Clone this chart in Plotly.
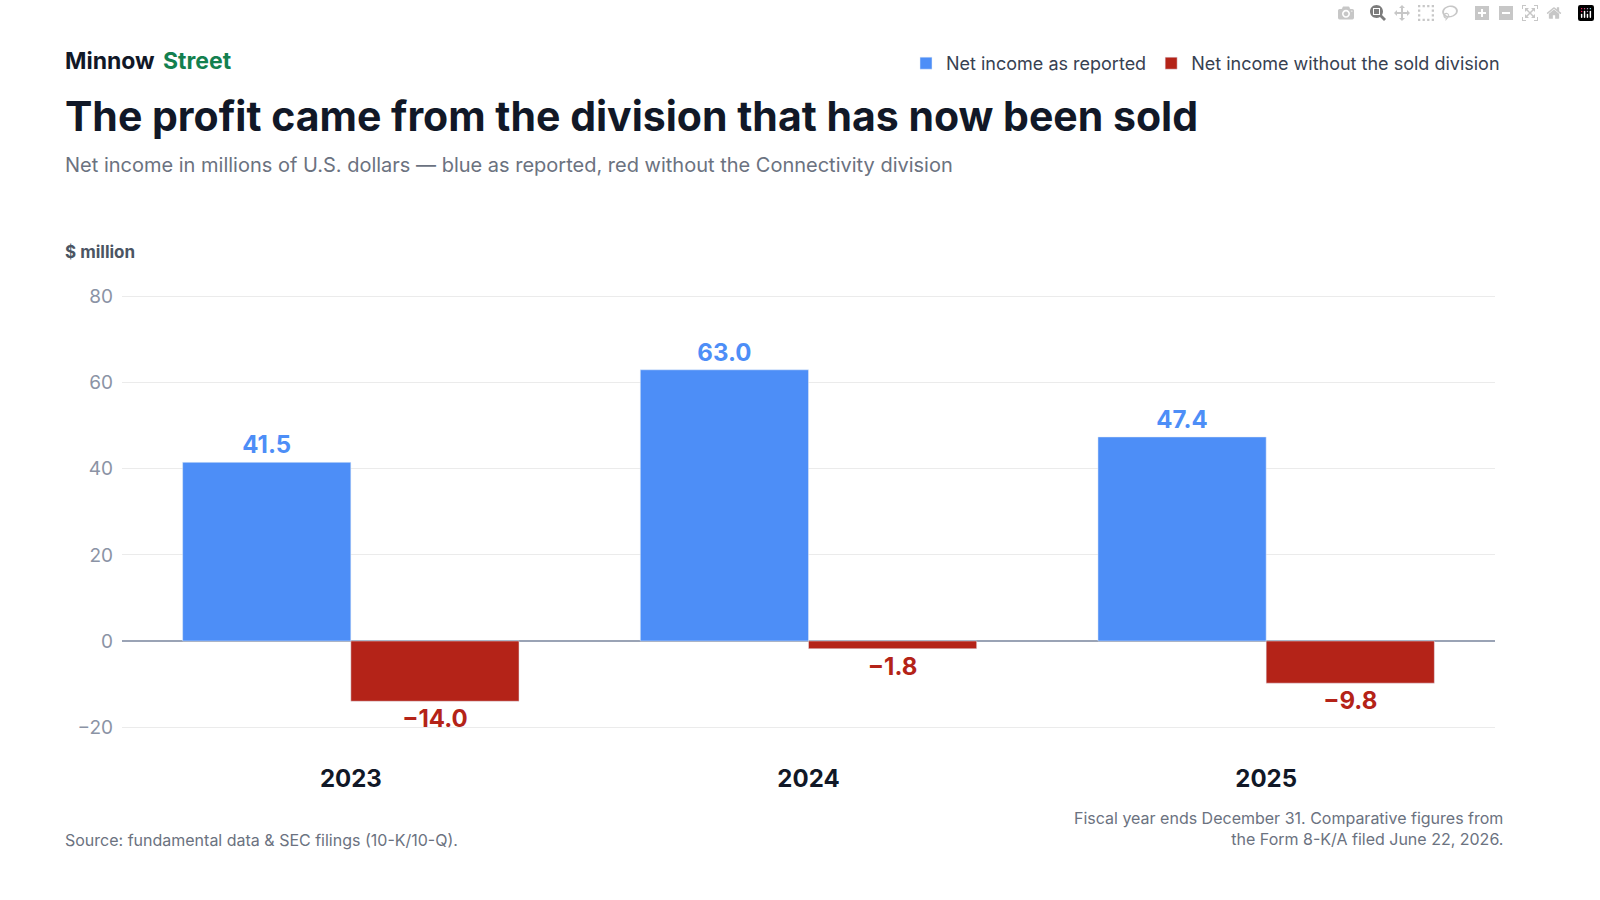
import plotly.graph_objects as go

years = ["2023", "2024", "2025"]
reported = [41.5, 63.0, 47.4]
without_div = [-14.0, -1.8, -9.8]

BLUE = "#4d8ef7"
RED = "#b42318"

def fmt(v):
    return f"{v:.1f}".replace("-", "\u2212")

fig = go.Figure()
fig.add_trace(go.Bar(x=years, y=reported, name="Net income as reported",
                     marker_color=BLUE, text=[fmt(v) for v in reported],
                     textposition="outside", cliponaxis=False,
                     textfont=dict(color=BLUE, size=24, family="Inter", weight=700)))
fig.add_trace(go.Bar(x=years, y=without_div, name="Net income without the sold division",
                     marker_color=RED, text=[fmt(v) for v in without_div],
                     textposition="outside", cliponaxis=False,
                     textfont=dict(color=RED, size=24, family="Inter", weight=700)))

L, R, T, B = 122, 105, 288, 160

fig.update_layout(
    width=1600, height=900,
    paper_bgcolor="white", plot_bgcolor="white",
    font=dict(family="Inter", color="#111827"),
    barmode="group", bargap=0.265, bargroupgap=0,
    margin=dict(l=L, r=R, t=T, b=B),
    showlegend=True,
    legend=dict(orientation="h", x=1505 / 1600, xanchor="right", y=1 - 45 / 900, yanchor="top",
                yref="container", xref="container",
                font=dict(size=18, color="#374151"), traceorder="normal",
                itemwidth=30),
    xaxis=dict(tickfont=dict(size=24, color="#111827", weight=700), showline=False,
               ticks="", ticklabelstandoff=22),
    yaxis=dict(range=[-23, 82], tickvals=[-20, 0, 20, 40, 60, 80],
               ticktext=["\u221220", "0", "20", "40", "60", "80"],
               tickfont=dict(size=19, color="#8b93a5"), gridcolor="#ebebeb",
               zeroline=True, zerolinecolor="#9aa3b5", zerolinewidth=2,
               ticklabelstandoff=8),
)

# texts placed in pixel positions of the 1600x900 picture
ann = [
    dict(text="<b>Minnow</b>", x=63, y=61, size=23, color="#111827"),
    dict(text="<b>Street</b>", x=161, y=61, size=23, color="#13804f"),
    dict(text="<b>The profit came from the division that has now been sold</b>", x=63, y=116,
         size=41, color="#111827"),
    dict(text="Net income in millions of U.S. dollars \u2014 blue as reported, red without the Connectivity division",
         x=63, y=165, size=20, color="#6b7280"),
    dict(text="<b>$ million</b>", x=63, y=252, size=17, color="#4b5563"),
    dict(text="Source: fundamental data & SEC filings (10-K/10-Q).", x=63, y=840,
         size=16, color="#6b7280"),
]
pw = 1600 - L - R
ph = 900 - T - B
annotations = []
for a in ann:
    annotations.append(dict(text=a["text"], x=(a["x"] - L) / pw, y=1 - (a["y"] - T) / ph,
                            xref="paper", yref="paper", xanchor="left", yanchor="middle",
                            showarrow=False, font=dict(size=a["size"], color=a["color"])))
annotations.append(dict(text="Fiscal year ends December 31. Comparative figures from<br>the Form 8-K/A filed June 22, 2026.",
                        x=(1505 - L) / pw, y=1 - (828 - T) / ph, xref="paper", yref="paper",
                        xanchor="right", yanchor="middle", align="right", showarrow=False,
                        font=dict(size=16, color="#6b7280")))
fig.update_layout(annotations=annotations)

fig.write_html("out.html", post_script="document.body.style.margin='0';")
